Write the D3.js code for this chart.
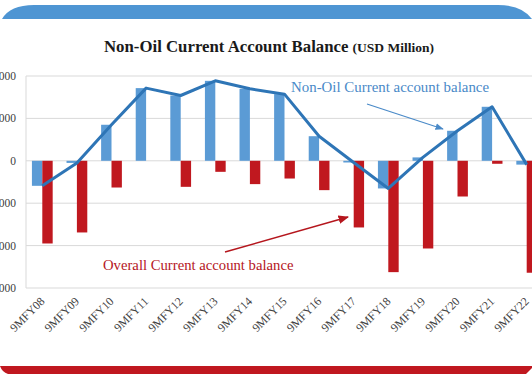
<!DOCTYPE html>
<html>
<head>
  <meta charset="UTF-8">
  <style>
    body { margin: 0; background: #fff; }
  </style>
</head>
<body>
<svg></svg>
<script src="https://d3js.org/d3.v7.min.js"></script>
<script>

let width = 532, height = 374;

// data (USD Million)
let periods = ["9MFY08", "9MFY09", "9MFY10", "9MFY11", "9MFY12", "9MFY13", "9MFY14", "9MFY15",
  "9MFY16", "9MFY17", "9MFY18", "9MFY19", "9MFY20", "9MFY21", "9MFY22"];
let nonOil = [-2950, -250, 4250, 8570, 7700, 9430, 8490, 7860, 2900, -200, -3260, 400, 3540, 6370, -450];
let overall = [-9750, -8450, -3150, 0, -3070, -1300, -2750, -2090, -3460, -7860, -13130, -10340, -4210, -350, -13200];
let yTicks = [10000, 5000, 0, -5000, -10000, -15000];

let serif = "'Liberation Serif', 'Times New Roman', serif";

let svg = d3.select("svg")
    .attr("width", width)
    .attr("height", height)
    .attr("font-family", serif);

// banners top and bottom
svg.append("path")
    .attr("d", "M2,19 Q10,5 34,5 L498,5 Q522,5 532,19 Z")
    .attr("fill", "#4e95d3");
svg.append("path")
    .attr("d", "M0,366 L532,366 L532,368 L526,374 L8,374 Q2,372 0,366 Z")
    .attr("fill", "#c0181f");

// title
let title = svg.append("text")
    .attr("x", 269)
    .attr("y", 52)
    .attr("text-anchor", "middle")
    .attr("font-weight", "bold")
    .attr("fill", "#1a1a1a");
title.append("tspan").attr("font-size", 16.8).text("Non-Oil Current Account Balance ");
title.append("tspan").attr("font-size", 13.5).text("(USD Million)");

let x = d3.scaleBand()
    .domain(periods)
    .range([25, 544])
    .paddingInner(0.4)
    .paddingOuter(0.2);

let y = d3.scaleLinear()
    .domain([-15000, 10000])
    .range([288, 76]);

// gridlines
svg.append("g")
    .selectAll("line")
    .data(yTicks)
    .enter()
    .append("line")
    .attr("x1", 26)
    .attr("x2", width)
    .attr("y1", d => y(d))
    .attr("y2", d => y(d))
    .attr("stroke", "#d9d9d9")
    .attr("stroke-width", 1);

svg.append("line")
    .attr("x1", 26).attr("x2", 26)
    .attr("y1", y(10000)).attr("y2", y(-15000))
    .attr("stroke", "#d9d9d9");

// y labels (clipped by the left edge, as in the source)
svg.append("g")
    .selectAll("text")
    .data(yTicks)
    .enter()
    .append("text")
    .attr("x", 16)
    .attr("y", d => y(d) + 4)
    .attr("text-anchor", "end")
    .attr("font-size", 11.5)
    .attr("fill", "#404040")
    .text(d => d3.format(",")(d));

let bw = x.bandwidth() / 2;

// non-oil bars
svg.append("g")
    .selectAll("rect")
    .data(nonOil)
    .enter()
    .append("rect")
    .attr("x", (d, i) => x(periods[i]))
    .attr("y", d => y(Math.max(0, d)))
    .attr("width", bw)
    .attr("height", d => Math.abs(y(d) - y(0)))
    .attr("fill", "#5b9bd5");

// overall bars
svg.append("g")
    .selectAll("rect")
    .data(overall)
    .enter()
    .append("rect")
    .attr("x", (d, i) => x(periods[i]) + bw)
    .attr("y", d => y(Math.max(0, d)))
    .attr("width", bw)
    .attr("height", d => Math.abs(y(d) - y(0)))
    .attr("fill", "#c0181f");

// non-oil line
let line = d3.line()
    .x((d, i) => x(periods[i]) + bw)
    .y(d => y(d));

svg.append("path")
    .datum(nonOil)
    .attr("d", line)
    .attr("fill", "none")
    .attr("stroke", "#2e75b6")
    .attr("stroke-width", 3)
    .attr("stroke-linejoin", "round");

// x labels
svg.append("g")
    .selectAll("text")
    .data(periods)
    .enter()
    .append("text")
    .attr("transform", d => "translate(" + (x(d) + bw + 3) + ",302) rotate(-45)")
    .attr("text-anchor", "end")
    .attr("font-size", 11.8)
    .attr("fill", "#404040")
    .text(d => d);

// annotations
let defs = svg.append("defs");
[["arrBlue", "#4a8ac8"], ["arrRed", "#b5161d"]].forEach(a => {
  defs.append("marker")
    .attr("id", a[0])
    .attr("viewBox", "0 0 10 10")
    .attr("refX", 9).attr("refY", 5)
    .attr("markerWidth", 7).attr("markerHeight", 7)
    .attr("orient", "auto")
    .append("path")
    .attr("d", "M0,1 L10,5 L0,9 Z")
    .attr("fill", a[1]);
});

svg.append("text")
    .attr("x", 291).attr("y", 92)
    .attr("font-size", 14.9)
    .attr("fill", "#4a8ac8")
    .text("Non-Oil Current account balance");
svg.append("line")
    .attr("x1", 367).attr("y1", 104)
    .attr("x2", 443).attr("y2", 129)
    .attr("stroke", "#4a8ac8")
    .attr("stroke-width", 1.2)
    .attr("marker-end", "url(#arrBlue)");

svg.append("text")
    .attr("x", 103).attr("y", 270)
    .attr("font-size", 14.7)
    .attr("fill", "#b5161d")
    .text("Overall Current account balance");
svg.append("line")
    .attr("x1", 225).attr("y1", 252)
    .attr("x2", 348).attr("y2", 217)
    .attr("stroke", "#b5161d")
    .attr("stroke-width", 1.5)
    .attr("marker-end", "url(#arrRed)");

</script>
</body>
</html>
